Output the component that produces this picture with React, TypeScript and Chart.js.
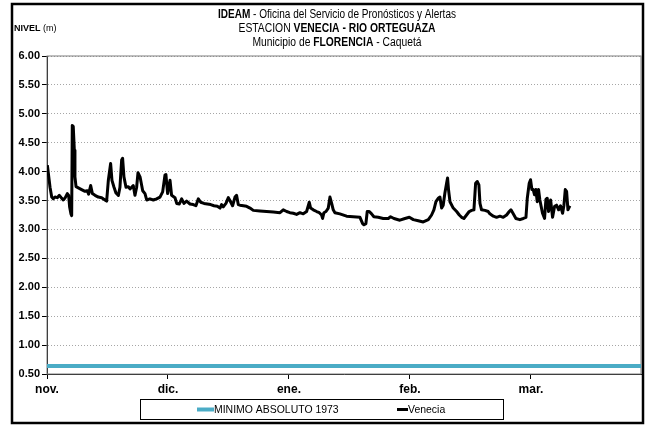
import React, { useEffect, useRef } from 'react';
import { Chart, registerables } from 'chart.js';

Chart.register(...registerables);

// ---- data (x = months elapsed since 1 Nov, equal-width months) ----
const monthLabels = ['nov.', 'dic.', 'ene.', 'feb.', 'mar.'];
const xMax = 4.91;
const yMin = 0.5;
const yMax = 6.0;
const yStep = 0.5;

const veneciaPos = [
  0.003, 0.025, 0.039, 0.052, 0.066, 0.085, 0.102, 0.118, 0.135, 0.151, 0.168, 0.179, 0.187, 0.198, 0.204,
  0.209, 0.217, 0.226, 0.231, 0.240, 0.259, 0.286, 0.314, 0.333, 0.344, 0.361, 0.375, 0.397, 0.424, 0.452,
  0.479, 0.493, 0.507, 0.526, 0.537, 0.554, 0.570, 0.590, 0.603, 0.617, 0.625, 0.636, 0.653, 0.672, 0.686,
  0.713, 0.727, 0.741, 0.752, 0.769, 0.791, 0.810, 0.824, 0.851, 0.879, 0.906, 0.934, 0.956, 0.975, 0.983,
  0.997, 1.017, 1.030, 1.058, 1.072, 1.094, 1.113, 1.132, 1.154, 1.182, 1.209, 1.231, 1.251, 1.270, 1.298,
  1.325, 1.353, 1.380, 1.408, 1.430, 1.443, 1.457, 1.479, 1.499, 1.512, 1.534, 1.554, 1.567, 1.581, 1.595,
  1.623, 1.650, 1.678, 1.705, 1.760, 1.815, 1.871, 1.926, 1.953, 1.981, 2.008, 2.036, 2.063, 2.091, 2.118,
  2.146, 2.168, 2.179, 2.201, 2.229, 2.251, 2.270, 2.278, 2.289, 2.306, 2.325, 2.339, 2.353, 2.366, 2.380,
  2.421, 2.476, 2.531, 2.587, 2.609, 2.620, 2.636, 2.647, 2.664, 2.683, 2.702, 2.738, 2.779, 2.821, 2.840,
  2.868, 2.917, 2.959, 2.995, 3.028, 3.069, 3.110, 3.152, 3.179, 3.198, 3.215, 3.234, 3.248, 3.262, 3.275,
  3.289, 3.303, 3.311, 3.319, 3.331, 3.358, 3.386, 3.408, 3.427, 3.446, 3.468, 3.490, 3.510, 3.529, 3.543,
  3.556, 3.570, 3.579, 3.592, 3.620, 3.647, 3.661, 3.689, 3.716, 3.744, 3.771, 3.799, 3.821, 3.835, 3.854,
  3.876, 3.909, 3.937, 3.959, 3.970, 3.986, 3.997, 4.008, 4.019, 4.030, 4.041, 4.052, 4.063, 4.074, 4.096,
  4.113, 4.124, 4.135, 4.146, 4.163, 4.179, 4.196, 4.212, 4.229, 4.245, 4.262, 4.273, 4.284, 4.295, 4.306,
  4.322,
];

const veneciaLevel = [
  4.11, 3.73, 3.56, 3.53, 3.56, 3.55, 3.59, 3.55, 3.51, 3.55, 3.62, 3.59, 3.39, 3.27, 3.24,
  4.80, 4.78, 4.37, 3.91, 3.74, 3.72, 3.69, 3.66, 3.67, 3.61, 3.76, 3.62, 3.59, 3.56, 3.55,
  3.51, 3.49, 3.85, 4.14, 3.85, 3.73, 3.63, 3.59, 3.73, 4.20, 4.23, 3.91, 3.73, 3.74, 3.70,
  3.76, 3.59, 3.73, 3.98, 3.91, 3.67, 3.62, 3.51, 3.53, 3.51, 3.53, 3.56, 3.65, 3.94, 3.95,
  3.62, 3.85, 3.59, 3.55, 3.45, 3.44, 3.53, 3.45, 3.49, 3.44, 3.43, 3.41, 3.53, 3.47, 3.45,
  3.44, 3.43, 3.41, 3.40, 3.37, 3.43, 3.39, 3.45, 3.55, 3.50, 3.41, 3.56, 3.59, 3.43, 3.42,
  3.41, 3.40, 3.37, 3.33, 3.32, 3.31, 3.30, 3.29, 3.34, 3.31, 3.29, 3.28, 3.26, 3.29, 3.27,
  3.31, 3.47, 3.37, 3.34, 3.31, 3.29, 3.25, 3.19, 3.29, 3.31, 3.37, 3.56, 3.45, 3.34, 3.29,
  3.27, 3.23, 3.22, 3.21, 3.10, 3.08, 3.10, 3.31, 3.31, 3.27, 3.22, 3.21, 3.19, 3.19, 3.22,
  3.19, 3.16, 3.19, 3.21, 3.17, 3.15, 3.13, 3.17, 3.25, 3.34, 3.48, 3.54, 3.56, 3.37, 3.42,
  3.63, 3.80, 3.89, 3.69, 3.48, 3.37, 3.31, 3.25, 3.21, 3.19, 3.25, 3.31, 3.33, 3.34, 3.80,
  3.83, 3.77, 3.45, 3.34, 3.33, 3.31, 3.27, 3.23, 3.21, 3.23, 3.21, 3.25, 3.31, 3.34, 3.27,
  3.19, 3.17, 3.19, 3.21, 3.54, 3.80, 3.86, 3.69, 3.69, 3.60, 3.69, 3.48, 3.69, 3.51, 3.28,
  3.19, 3.52, 3.54, 3.31, 3.51, 3.21, 3.40, 3.42, 3.34, 3.41, 3.28, 3.42, 3.69, 3.66, 3.34,
  3.41,
];

const minimoPos = [0, xMax];
const minimoLevel = [0.64, 0.64];

const seriesNames = ['MINIMO ABSOLUTO 1973', 'Venecia'];
const seriesColors = ['#4BACC6', '#000000'];

const FONT = '"Liberation Sans", Arial, sans-serif';

type Seg = [string, boolean];

// draws a line of mixed bold / regular text, centred on cx, fitted to a target width
function drawRich(ctx: CanvasRenderingContext2D, segs: Seg[], cx: number, y: number, size: number, targetW: number) {
  ctx.save();
  let total = 0;
  const widths: number[] = [];
  segs.forEach(([t, b]) => {
    ctx.font = `${b ? 'bold ' : ''}${size}px ${FONT}`;
    const w = ctx.measureText(t).width;
    widths.push(w);
    total += w;
  });
  const sx = targetW / total;
  ctx.translate(cx - targetW / 2, y);
  ctx.scale(sx, 1);
  ctx.textBaseline = 'middle';
  ctx.textAlign = 'left';
  ctx.fillStyle = '#000';
  let x = 0;
  segs.forEach(([t, b], i) => {
    ctx.font = `${b ? 'bold ' : ''}${size}px ${FONT}`;
    ctx.fillText(t, x, 0);
    x += widths[i];
  });
  ctx.restore();
}

const decorPlugin = {
  id: 'decor',
  beforeDraw(chart: any) {
    const { ctx, width, height } = chart;
    ctx.save();
    ctx.fillStyle = '#fff';
    ctx.fillRect(0, 0, width, height);
    ctx.restore();
  },
  beforeDatasetsDraw(chart: any) {
    const { ctx, chartArea: a } = chart;
    ctx.save();
    ctx.strokeStyle = '#7f7f7f';
    ctx.lineWidth = 1;
    ctx.strokeRect(a.left, a.top, a.right - a.left, a.bottom - a.top);
    ctx.restore();
  },
  afterDraw(chart: any) {
    const { ctx } = chart;
    // title
    const cx = 337;
    drawRich(ctx, [['IDEAM', true], [' - Oficina del Servicio de Pronósticos y Alertas', false]], cx, 15, 12, 238);
    drawRich(ctx, [['ESTACION ', false], ['VENECIA - RIO ORTEGUAZA', true]], cx, 29, 12, 197);
    drawRich(ctx, [['Municipio de ', false], ['FLORENCIA', true], [' - Caquetá', false]], cx, 43, 12, 169);
    // y-axis unit
    ctx.save();
    ctx.textBaseline = 'middle';
    ctx.fillStyle = '#000';
    ctx.font = `bold 9px ${FONT}`;
    ctx.fillText('NIVEL', 14, 29);
    const w = ctx.measureText('NIVEL ').width;
    ctx.font = `9px ${FONT}`;
    ctx.fillText('(m)', 14 + w, 29);
    ctx.restore();

    // legend box
    ctx.save();
    ctx.strokeStyle = '#000';
    ctx.lineWidth = 1;
    ctx.strokeRect(140.5, 399.5, 363, 20);
    const ly = 409.5;
    ctx.lineWidth = 4;
    ctx.strokeStyle = seriesColors[0];
    ctx.beginPath();
    ctx.moveTo(197, ly);
    ctx.lineTo(214, ly);
    ctx.stroke();
    ctx.lineWidth = 3;
    ctx.strokeStyle = seriesColors[1];
    ctx.beginPath();
    ctx.moveTo(397, ly);
    ctx.lineTo(408, ly);
    ctx.stroke();
    ctx.restore();
    [[seriesNames[0], 214], [seriesNames[1], 408]].forEach(([t, x]) => {
      ctx.save();
      ctx.font = `11px ${FONT}`;
      ctx.textBaseline = 'middle';
      ctx.fillStyle = '#000';
      ctx.translate(x as number, ly);
      ctx.scale(0.95, 1);
      ctx.fillText(t as string, 0, 0);
      ctx.restore();
    });

    // outer frame
    ctx.save();
    ctx.strokeStyle = '#000';
    ctx.lineWidth = 2.5;
    ctx.strokeRect(12, 4, 631, 419);
    ctx.restore();
  },
};

export default function App() {
  const ref = useRef<HTMLCanvasElement | null>(null);
  useEffect(() => {
    if (!ref.current) return;
    const venecia = veneciaPos.map((x, i) => ({ x, y: veneciaLevel[i] }));
    const minimo = minimoPos.map((x, i) => ({ x, y: minimoLevel[i] }));
    const chart = new Chart(ref.current, {
      type: 'line',
      data: {
        datasets: [
          {
            label: seriesNames[0],
            data: minimo,
            borderColor: seriesColors[0],
            backgroundColor: seriesColors[0],
            borderWidth: 4,
            pointRadius: 0,
            tension: 0,
          },
          {
            label: seriesNames[1],
            data: venecia,
            borderColor: seriesColors[1],
            backgroundColor: seriesColors[1],
            borderWidth: 3,
            pointRadius: 0,
            tension: 0,
            borderJoinStyle: 'round',
          },
        ],
      },
      options: {
        responsive: false,
        animation: false,
        devicePixelRatio: 1,
        layout: { padding: { left: 12, right: 10, top: 56, bottom: 22 } },
        plugins: { legend: { display: false }, title: { display: false }, tooltip: { enabled: false } },
        scales: {
          x: {
            type: 'linear',
            min: 0,
            max: xMax,
            afterFit: (s: any) => { s.height = 30; },
            ticks: {
              stepSize: 1,
              includeBounds: false,
              autoSkip: false,
              maxRotation: 0,
              padding: 3,
              color: '#000',
              font: { family: FONT, size: 12, weight: 'bold' },
              callback: (v: any) => (Number.isInteger(v) && monthLabels[v] ? monthLabels[v] : ''),
            },
            grid: { drawOnChartArea: false, drawTicks: true, tickLength: 5, color: '#000' },
            border: { display: true, color: '#000', width: 1 },
          },
          y: {
            type: 'linear',
            min: yMin,
            max: yMax,
            afterFit: (s: any) => { s.width = 35; },
            ticks: {
              stepSize: yStep,
              padding: 2,
              color: '#000',
              font: { family: FONT, size: 11, weight: 'bold' },
              callback: (v: any) => Number(v).toFixed(2),
            },
            grid: { drawOnChartArea: true, drawTicks: true, tickLength: 5, color: '#a6a6a6', tickColor: '#000' },
            border: { display: true, color: '#000', width: 1, dash: [1, 2] },
          },
        },
      },
      plugins: [decorPlugin],
    });
    return () => chart.destroy();
  }, []);
  return (
    <div style={{ position: 'absolute', left: 0, top: 0, width: 651, height: 426 }}>
      <canvas ref={ref} width={651} height={426} style={{ width: 651, height: 426, display: 'block' }} />
    </div>
  );
}
